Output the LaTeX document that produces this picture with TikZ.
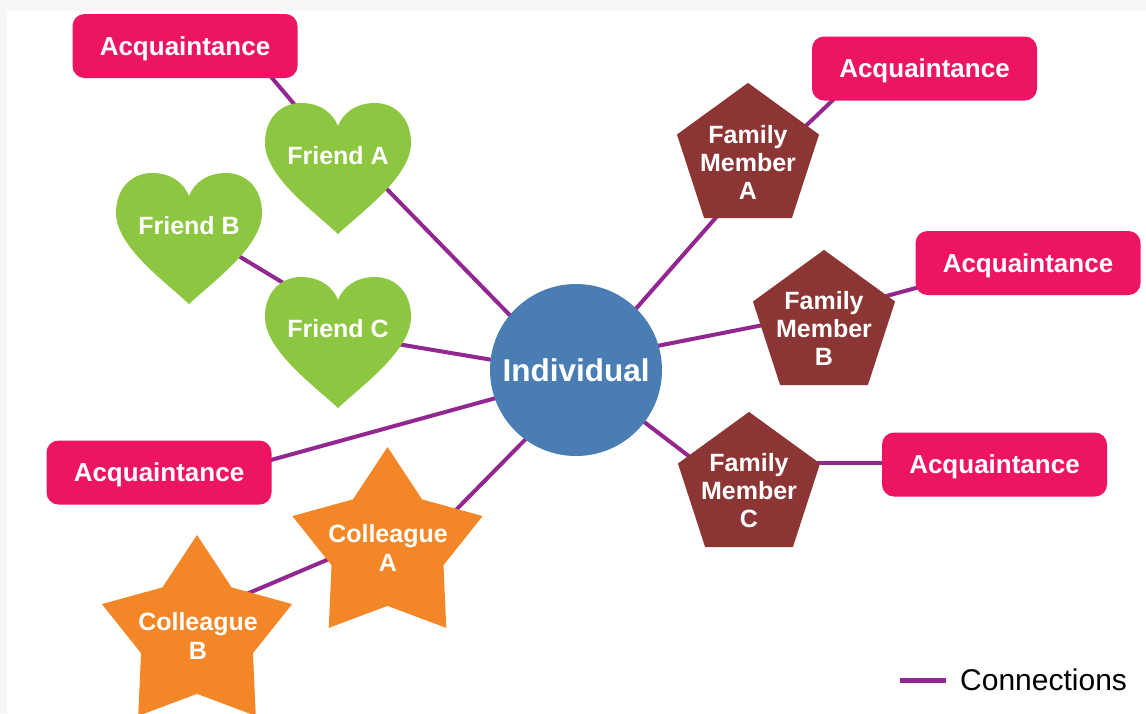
\documentclass[tikz,border=0pt]{standalone}
\usepackage{fontspec}
\setmainfont{Liberation Sans}
\usetikzlibrary{shapes.geometric,backgrounds}
\definecolor{pinkc}{HTML}{ED1563}
\definecolor{greenc}{HTML}{8DC641}
\definecolor{orangec}{HTML}{F38627}
\definecolor{brownc}{HTML}{8C3535}
\definecolor{bluec}{HTML}{4A7DB4}
\definecolor{purplec}{HTML}{922790}
\tikzset{
  acq/.style={rectangle, rounded corners=12pt, fill=pinkc, minimum width=225pt, minimum height=64pt,
    text=white, text depth=0pt, font=\fontsize{26}{28}\selectfont\bfseries, inner sep=0pt},
  lbl/.style={text=white, font=\fontsize{25}{28}\selectfont\bfseries, align=center, inner sep=0pt},
  starlbl/.style={lbl, font=\fontsize{25}{29}\selectfont\bfseries},
  conn/.style={draw=purplec, line width=4pt},
  pentshape/.style={regular polygon, regular polygon sides=5, minimum size=149.4pt, inner sep=0pt, fill=brownc},
  starshape/.style={star, star points=5, star point ratio=1.7, minimum size=200pt, inner sep=0pt, fill=orangec},
  heart/.pic={\fill[greenc] (0,131) .. controls (-22,110) and (-73,74) .. (-73,40)
      .. controls (-73,14) and (-56,0) .. (-37,0) .. controls (-18,0) and (-5,10) .. (0,23)
      .. controls (5,10) and (18,0) .. (37,0) .. controls (56,0) and (73,14) .. (73,40)
      .. controls (73,74) and (22,110) .. (0,131) -- cycle;}
}
\begin{document}
\begin{tikzpicture}[x=1pt,y=-1pt]
\useasboundingbox (0,0) rectangle (1146,713);
\begin{scope}[on background layer]
\fill[white] (0,0) rectangle (1146,713);
\fill[gray!6] (0,0) rectangle (1146,11);
\fill[gray!6] (0,0) rectangle (7,713);
\end{scope}

% hearts
\pic at (338,103) {heart};
\pic at (189,173) {heart};
\pic at (338,277) {heart};
\node[lbl] (fA) at (338,156) {Friend A};
\node[lbl] (fB) at (189,226) {Friend B};
\node[lbl] (fC) at (338,329) {Friend C};

% stars
\node[starshape] (colAs) at (387.5,547) {};
\node[starshape] (colBs) at (197,635) {};
\node[starlbl] (colA) at (388,547.5) {Colleague\\A};
\node[starlbl] (colB) at (198,636) {Colleague\\B};

% pentagons
\node[pentshape] (famAs) at (748,157.6) {};
\node[pentshape] (famBs) at (824,324.6) {};
\node[pentshape] (famCs) at (749,486.6) {};
\node[lbl] (famA) at (748,162) {Family\\Member\\A};
\node[lbl] (famB) at (824,328) {Family\\Member\\B};
\node[lbl] (famC) at (749,491) {Family\\Member\\C};

% individual
\node[circle, fill=bluec, minimum size=172pt, inner sep=0pt, text=white,
  font=\fontsize{31.5}{34}\selectfont\bfseries] (ind) at (576,370) {Individual};

% acquaintances
\node[acq] (acqTL) at (185,46) {Acquaintance};
\node[acq] (acqTR) at (924.5,68.5) {Acquaintance};
\node[acq] (acqR) at (1028,263) {Acquaintance};
\node[acq] (acqRB) at (994.5,464.5) {Acquaintance};
\node[acq] (acqL) at (159,472.5) {Acquaintance};

% connections
\begin{scope}[on background layer]
\draw[conn] ([shift={(60,0)}]acqTL.center) -- (fA.center);
\draw[conn] ([shift={(0,-17)}]fA.center) -- ([shift={(0,13)}]ind.center);
\draw[conn] (fB.center) -- ([shift={(0,-13)}]fC.center);
\draw[conn] ([shift={(0,5)}]fC.center) -- ([shift={(0,4)}]ind.center);
\draw[conn] ([shift={(41,7)}]acqL.center) -- ([shift={(0,6)}]ind.center);
\draw[conn] ([shift={(0,31.5)}]colA.center) -- ([shift={(0,18)}]ind.center);
\draw[conn] ([shift={(-1,-21)}]colB.center) -- ([shift={(0,-13.5)}]colA.center);
\draw[conn] ([shift={(0,19)}]famA.center) -- ([shift={(0,7)}]ind.center);
\draw[conn] ([shift={(0,19)}]famA.center) -- ([shift={(-58.5,0)}]acqTR.center);
\draw[conn] ([shift={(0,-15)}]famB.center) -- ([shift={(0,-8)}]ind.center);
\draw[conn] ([shift={(0,-15)}]famB.center) -- ([shift={(-68,13)}]acqR.center);
\draw[conn] ([shift={(0,11)}]famC.center) -- (ind.center);
\draw[conn] ([shift={(0,-27.7)}]famC.center) -- ([shift={(0,-1.2)}]acqRB.center);
\end{scope}

% legend
\coordinate (lg1) at (900,680);
\coordinate (lg2) at (946,680);
\draw[draw=purplec, line width=5pt] (lg1) -- (lg2);
\node[anchor=west, inner sep=0pt, font=\fontsize{30}{32}\selectfont] (lgt) at (960,680) {Connections};
\end{tikzpicture}
\end{document}
